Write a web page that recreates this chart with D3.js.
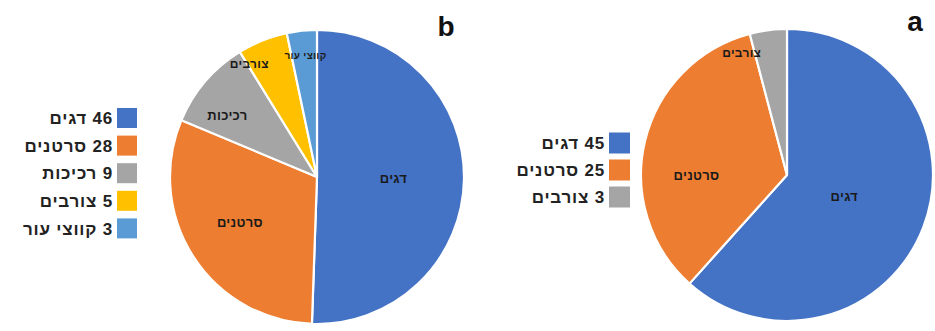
<!DOCTYPE html>
<html><head><meta charset="utf-8">
<script src="https://cdn.jsdelivr.net/npm/d3@7"></script>
<style>html,body{margin:0;padding:0;background:#fff;}svg{display:block;}</style>
</head><body>
<svg id="c" width="935" height="331"></svg>
<script>
// ---- data ----
const categoriesB = ["דגים", "סרטנים", "רכיכות", "צורבים", "קווצי עור"];
const valuesB = [46, 28, 9, 5, 3];
const categoriesA = ["דגים", "סרטנים", "צורבים"];
const valuesA = [45, 25, 3];
const panelTitles = ["b", "a"];

// ---- style / layout ----
const colorsB = ["#4472C4", "#ED7D31", "#A5A5A5", "#FFC000", "#5B9BD5"];
const colorsA = ["#4472C4", "#ED7D31", "#A5A5A5"];
const labelRadiusB = [0.52, 0.61, 0.74, 0.90, 0.83];
const labelShiftB = [0, 2, -6, -9, 0.5];
const labelSizeB = [13, 13, 13, 12, 10];
const labelRadiusA = [0.42, 0.62, 0.89];
const labelShiftA = [0, -14, -13];
const labelSizeA = [13, 13, 12];

const svg = d3.select("#c");
const font = "'Liberation Sans', Arial, 'DejaVu Sans', sans-serif";

function drawPie(cfg) {
  const g = svg.append("g").attr("transform", `translate(${cfg.cx},${cfg.cy})`);
  const pie = d3.pie().sort(null).value(d => d.v);
  const data = cfg.cats.map((c, i) => ({c, v: cfg.vals[i], i}));
  const arcs = pie(data);
  const arc = d3.arc().innerRadius(0).outerRadius(cfg.r);
  g.selectAll("path").data(arcs).join("path")
    .attr("d", arc)
    .attr("fill", d => cfg.colors[d.data.i])
    .attr("stroke", "#fff").attr("stroke-width", 2.2).attr("stroke-linejoin", "round");
  g.selectAll("text.lbl").data(arcs).join("text")
    .attr("class", "lbl")
    .attr("transform", d => {
      const a = (d.startAngle + d.endAngle) / 2 + cfg.shift[d.data.i] * Math.PI / 180;
      const rr = cfg.r * cfg.lr[d.data.i];
      return `translate(${rr * Math.sin(a)},${-rr * Math.cos(a)})`;
    })
    .attr("text-anchor", "middle").attr("dy", "0.35em")
    .attr("font-family", font).attr("font-size", d => cfg.lblSize[d.data.i]).attr("font-weight", "bold")
    .attr("letter-spacing", 0.3)
    .attr("fill", "#1a1a1a")
    .attr("direction", "rtl")
    .text(d => d.data.c);

  // legend
  const lg = svg.append("g");
  const rows = lg.selectAll("g").data(data).join("g")
    .attr("transform", d => `translate(0,${cfg.ly0 + d.i * cfg.lstep})`);
  rows.append("rect")
    .attr("x", cfg.lx).attr("y", -cfg.sq / 2).attr("width", cfg.sq).attr("height", cfg.sq)
    .attr("fill", d => cfg.colors[d.i]);
  rows.append("text")
    .attr("x", cfg.lx - 4).attr("dy", "0.36em")
    .attr("direction", "rtl").attr("text-anchor", "start")
    .attr("font-family", font).attr("font-size", cfg.legSize).attr("font-weight", "bold")
    .attr("letter-spacing", 0.8)
    .attr("fill", "#222")
    .text(d => `${d.v} ${d.c}`);

  svg.append("text").attr("x", cfg.tx).attr("y", cfg.ty)
    .attr("text-anchor", "middle")
    .attr("font-family", font).attr("font-size", 28).attr("font-weight", "bold")
    .attr("fill", "#111").text(cfg.title);
}

drawPie({cx: 317, cy: 177, r: 147, cats: categoriesB, vals: valuesB, colors: colorsB,
  lr: labelRadiusB, shift: labelShiftB, lblSize: labelSizeB,
  lx: 117, ly0: 118, lstep: 27.6, sq: 20, legSize: 17, title: panelTitles[0], tx: 446, ty: 36});
drawPie({cx: 787, cy: 175, r: 146, cats: categoriesA, vals: valuesA, colors: colorsA,
  lr: labelRadiusA, shift: labelShiftA, lblSize: labelSizeA,
  lx: 609, ly0: 143, lstep: 27, sq: 21, legSize: 17, title: panelTitles[1], tx: 915, ty: 31});
</script>
</body></html>
